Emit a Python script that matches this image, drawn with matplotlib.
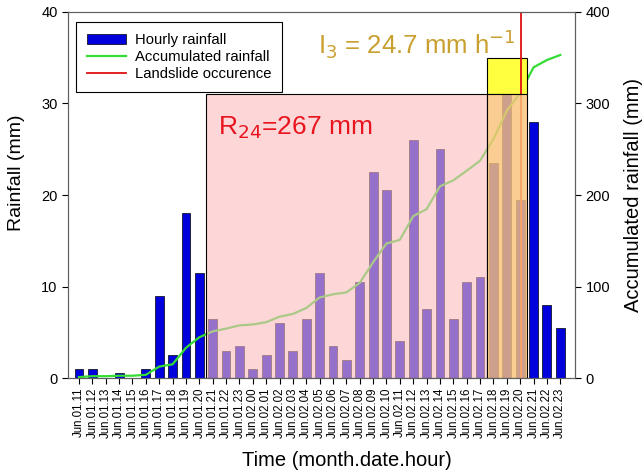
import numpy as np
import matplotlib
matplotlib.use("Agg")
import matplotlib.pyplot as plt
from matplotlib.patches import Rectangle, Patch
from matplotlib.lines import Line2D

plt.rcParams['font.family'] = ['Liberation Sans', 'DejaVu Sans']

# hourly rainfall, Jun.01.11 .. Jun.02.23
hours = [f"Jun.01.{h:02d}" for h in range(11, 24)] + [f"Jun.02.{h:02d}" for h in range(0, 24)]
rain = [1.0, 1.0, 0.0, 0.5, 0.0, 1.0, 9.0, 2.5, 18.0, 11.5,
        6.5, 3.0, 3.5, 1.0, 2.5, 6.0, 3.0, 6.5, 11.5, 3.5, 2.0, 10.5,
        22.5, 20.5, 4.0, 26.0, 7.5, 25.0, 6.5, 10.5, 11.0,
        23.5, 31.0, 19.5, 28.0, 8.0, 5.5]
accum = np.cumsum(rain)

r24_span = (9.5, 30.5)      # 24 h window (index range)
i3_span = (30.5, 33.5)      # 3 h peak window
landslide_idx = 33.1
r24_top = 31.0
i3_top = 35.0

x = np.arange(len(hours))

fig = plt.figure(figsize=(6.43, 4.74), dpi=100)
ax = fig.add_axes([0.1058, 0.2025, 0.7884, 0.7722])
ax2 = ax.twinx()

ax.bar(x, rain, width=0.66, color='#0000dd', edgecolor='black', linewidth=0.5, zorder=2)
ax.plot(x, accum / 10.0, color='#33dd33', lw=1.6, zorder=3)
ax.axvline(landslide_idx, color='#e01010', lw=1.3, zorder=4)

ax.add_patch(Rectangle((i3_span[0], r24_top), i3_span[1] - i3_span[0], i3_top - r24_top,
                       facecolor='#ffff40', edgecolor='black', lw=0.8, zorder=3.5))
ax.add_patch(Rectangle((r24_span[0], 0), r24_span[1] - r24_span[0], r24_top,
                       facecolor=(0.99, 0.74, 0.75, 0.6), edgecolor='black', lw=0.8, zorder=5))
ax.add_patch(Rectangle((i3_span[0], 0), i3_span[1] - i3_span[0], r24_top,
                       facecolor=(0.98, 0.77, 0.48, 0.82), edgecolor='black', lw=0.8, zorder=5))

ax.text(10.4, 26.6, r"R$_{24}$=267 mm", color='#e8141e', fontsize=19, zorder=6)
ax.text(17.9, 35.5, r"I$_3$ = 24.7 mm h$^{-1}$", color='#c9a030', fontsize=18.5, zorder=6)

ax.set_xlim(-0.82, 37.1)
ax.set_ylim(0, 40)
ax2.set_ylim(0, 400)
ax.set_yticks([0, 10, 20, 30, 40])
ax2.set_yticks([0, 100, 200, 300, 400])
ax.set_xticks(x)
ax.set_xticklabels(hours, rotation=90, fontsize=8.3)
ax.tick_params(axis='x', length=4, pad=3)
ax.tick_params(axis='y', labelsize=10.5, length=4)
ax2.tick_params(axis='y', labelsize=10.5, length=4)

for a in (ax, ax2):
    for s in a.spines.values():
        s.set_color('#606060')

ax.set_ylabel("Rainfall (mm)", fontsize=14)
ax.yaxis.set_label_coords(-0.085, 0.56)
ax2.set_ylabel("Accumulated rainfall (mm)", fontsize=14.5, labelpad=10)
ax.set_xlabel("Time (month.date.hour)", fontsize=14.5)
ax.xaxis.set_label_coords(0.55, -0.2)

handles = [Patch(facecolor='#0000dd', edgecolor='black', lw=0.5),
           Line2D([], [], color='#33dd33', lw=1.6),
           Line2D([], [], color='#e01010', lw=1.3)]
leg = ax.legend(handles, ["Hourly rainfall", "Accumulated rainfall", "Landslide occurence"],
                loc='upper left', bbox_to_anchor=(0.016, 0.973), fontsize=10.7,
                fancybox=False, edgecolor='black', framealpha=1,
                borderpad=0.75, labelspacing=0.2, handlelength=2.6, handletextpad=0.6,
                borderaxespad=0)
leg.get_frame().set_linewidth(0.8)
leg.set_zorder(7)

fig.savefig("out.png", dpi=100)
